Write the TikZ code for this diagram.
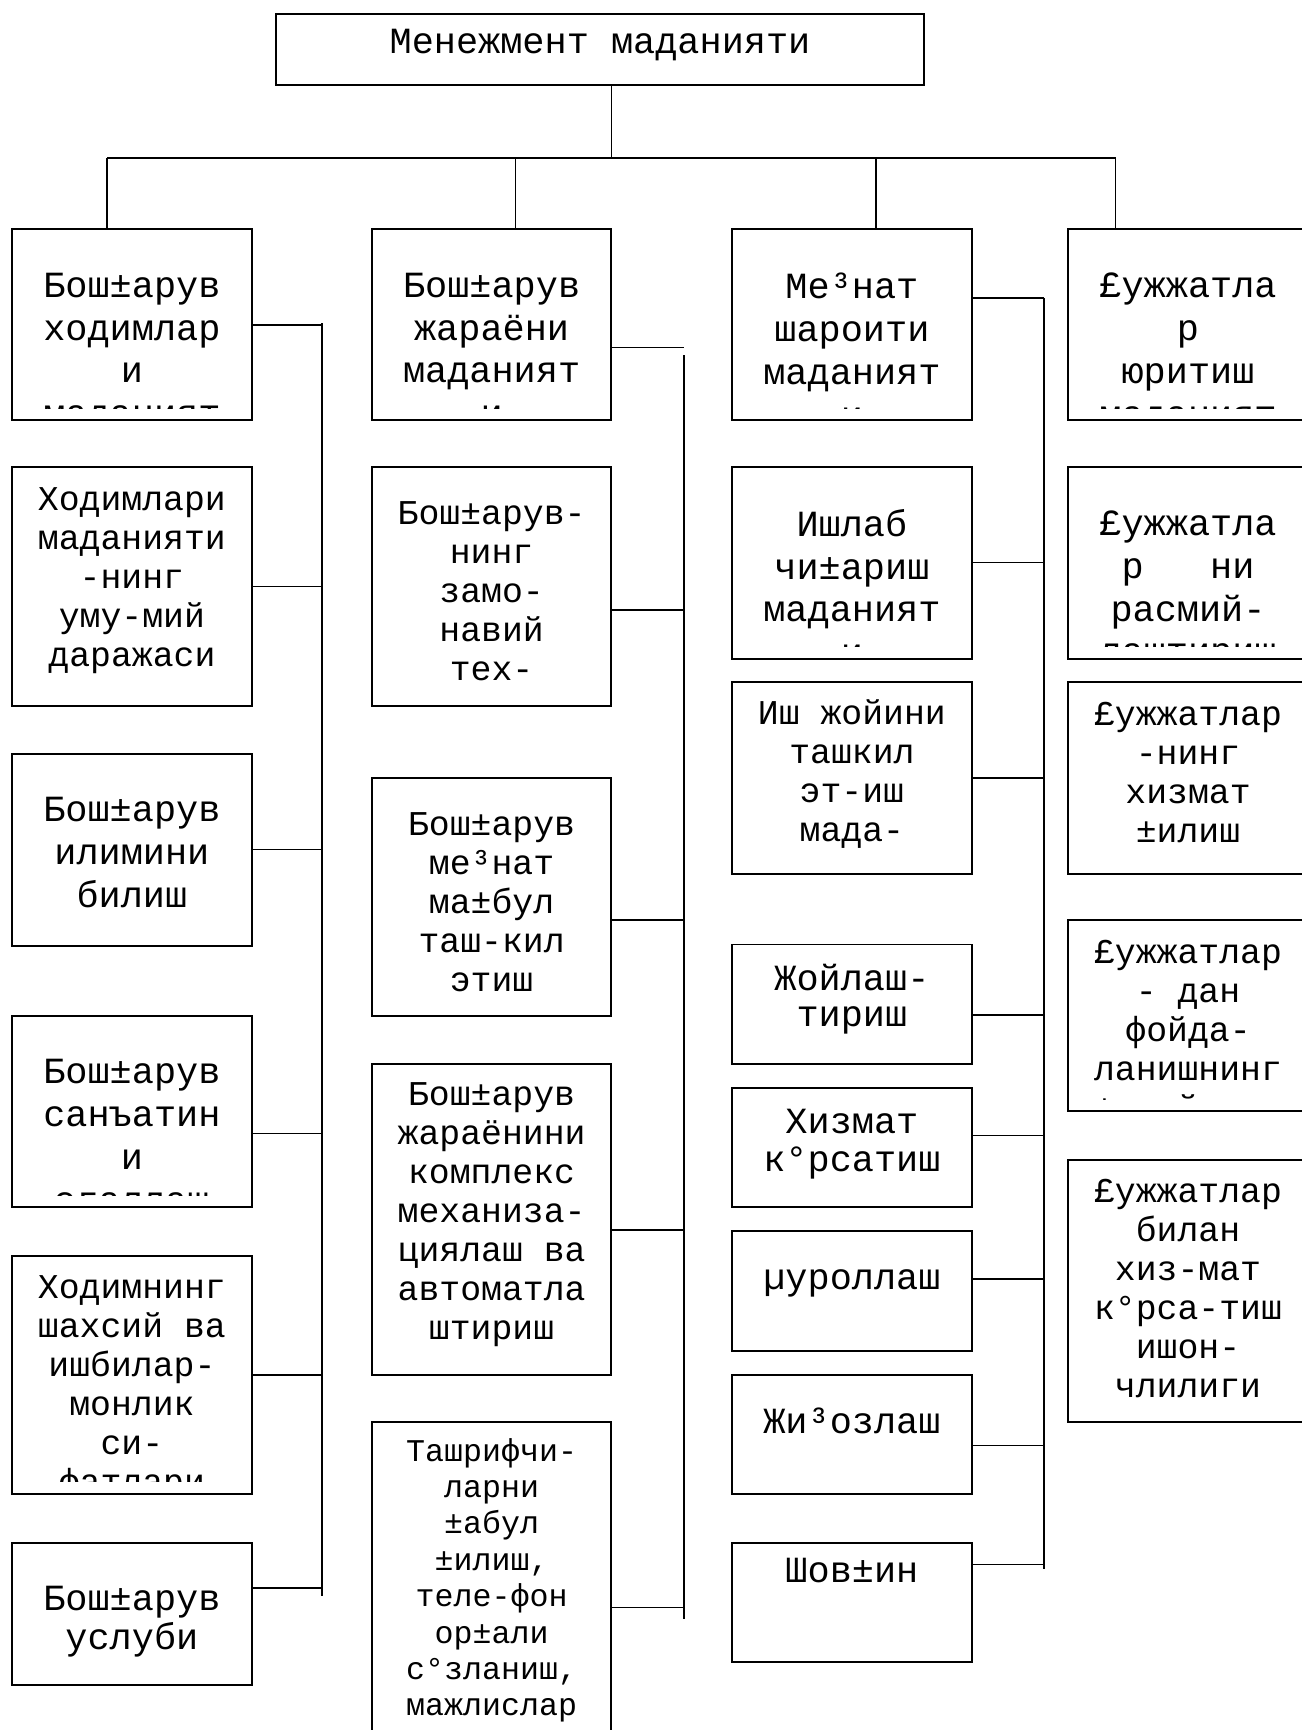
\documentclass[tikz,border=0pt]{standalone}
\usepackage{fontspec}
\newfontfamily\cour{Liberation Mono}

\begin{document}
\begin{tikzpicture}[font=\cour]

\tikzset{
  box/.style={draw, line width=0.55pt, minimum width=2.395cm, inner sep=0pt, anchor=north},
  tx/.style={draw=none, inner sep=0pt, minimum width=0pt, minimum height=0pt, align=center, anchor=north, path picture={}, execute at begin node=\strut},
  lbl/.style n args={3}{path picture={
      \clip ([yshift=0.12cm]path picture bounding box.south west) rectangle (path picture bounding box.north east);
      \node[tx, #1] at ([yshift=-#2]path picture bounding box.north) {#3};}},
  big/.style={font=\cour\fontsize{10.5}{12.2}\selectfont},
  bigt/.style={font=\cour\fontsize{10.5}{11}\selectfont},
  bigtt/.style={font=\cour\fontsize{10.5}{10.35}\selectfont},
  mid/.style={font=\cour\fontsize{9.9}{11.1}\selectfont},
  sml/.style={font=\cour\fontsize{9}{10.35}\selectfont},
  conn/.style={line width=0.45pt},
}

\useasboundingbox (0,0) rectangle (13.01,-17.30);

% top
\node[box, minimum width=6.48cm, minimum height=0.71cm, lbl={big}{0.09cm}{Менежмент маданияти}] (top) at (6.00,-0.13) {};

% first column
\node[box, minimum height=1.909cm, lbl={big}{0.425cm}{Бош±арув\\ходимлар\\и\\маданият}] (a1) at (1.319,-2.284) {};
\node[box, minimum height=2.394cm, lbl={mid}{0.195cm}{Ходимлари\\маданияти\\-нинг\\уму-мий\\даражаси}] (a2) at (1.319,-4.657) {};
\node[box, minimum height=1.920cm, lbl={big}{0.425cm}{Бош±арув\\илимини\\билиш}] (a3) at (1.319,-7.526) {};
\node[box, minimum height=1.909cm, lbl={big}{0.425cm}{Бош±арув\\санъатин\\и\\эгаллаш}] (a4) at (1.319,-10.152) {};
\node[box, minimum height=2.383cm, lbl={mid}{0.19cm}{Ходимнинг\\шахсий~ва\\ишбилар-\\монлик\\си-\\фатлари}] (a5) at (1.319,-12.547) {};
\node[box, minimum height=1.424cm, lbl={bigt}{0.425cm}{Бош±арув\\услуби}] (a6) at (1.319,-15.416) {};

% second column
\node[box, minimum height=1.909cm, lbl={big}{0.425cm}{Бош±арув\\жараёни\\маданият\\и}] (b1) at (4.916,-2.284) {};
\node[box, minimum height=2.394cm, lbl={mid}{0.336cm}{Бош±арув-\\нинг\\замо-\\навий\\тех-}] (b2) at (4.916,-4.657) {};
\node[box, minimum height=2.383cm, lbl={mid}{0.335cm}{Бош±арув\\ме³нат\\ма±бул\\таш-кил\\этиш}] (b3) at (4.916,-7.769) {};
\node[box, minimum height=3.112cm, lbl={mid}{0.18cm}{Бош±арув\\жараёнини\\комплекс\\механиза-\\циялаш~ва\\автоматла\\штириш}] (b4) at (4.916,-10.627) {};
\node[box, minimum height=3.708cm, lbl={sml}{0.15cm}{Ташрифчи-\\ларни\\±абул\\±илиш,\\теле-фон\\ор±али\\с°зланиш,\\мажлислар}] (b5) at (4.916,-14.213) {};

% third column
\node[box, minimum height=1.909cm, lbl={big}{0.425cm}{Ме³нат\\шароити\\маданият\\и}] (c1) at (8.519,-2.284) {};
\node[box, minimum height=1.920cm, lbl={big}{0.415cm}{Ишлаб\\чи±ариш\\маданият\\и}] (c2) at (8.519,-4.657) {};
\node[box, minimum height=1.920cm, lbl={mid}{0.17cm}{Иш~жойини\\ташкил\\эт-иш\\мада-}] (c3) at (8.519,-6.809) {};
\node[box, minimum height=1.192cm, lbl={bigtt}{0.185cm}{Жойлаш-\\тириш}] (c4) at (8.519,-9.435) {};
\node[box, minimum height=1.191cm, lbl={bigt}{0.2cm}{Хизмат\\к°рсатиш}] (c5) at (8.519,-10.870) {};
\node[box, minimum height=1.192cm, lbl={big}{0.27cm}{µуроллаш}] (c6) at (8.519,-12.304) {};
\node[box, minimum height=1.191cm, lbl={big}{0.28cm}{Жи³озлаш}] (c7) at (8.519,-13.739) {};
\node[box, minimum height=1.192cm, lbl={big}{0.085cm}{Шов±ин}] (c8) at (8.519,-15.416) {};

% fourth column
\node[box, minimum height=1.909cm, lbl={big}{0.425cm}{£ужжатла\\р\\юритиш\\маданият}] (d1) at (11.88,-2.284) {};
\node[box, minimum height=1.920cm, lbl={big}{0.43cm}{£ужжатла\\р~~~ни\\расмий-\\лаштириш}] (d2) at (11.88,-4.657) {};
\node[box, minimum height=1.920cm, lbl={mid}{0.19cm}{£ужжатлар\\-нинг\\хизмат\\±илиш}] (d3) at (11.88,-6.809) {};
\node[box, minimum height=1.909cm, lbl={mid}{0.19cm}{£ужжатлар\\-~дан\\фойда-\\ланишнинг\\±улайлиги}] (d4) at (11.88,-9.192) {};
\node[box, minimum height=2.626cm, lbl={mid}{0.19cm}{£ужжатлар\\билан\\хиз-мат\\к°рса-тиш\\ишон-\\члилиги}] (d5) at (11.88,-11.587) {};

% tree lines
\coordinate (trunk) at (6.113,-1.578);
\coordinate (dA) at (1.070,-1.578);
\coordinate (dB) at (5.153,-1.578);
\coordinate (dC) at (8.762,-1.578);
\coordinate (dD) at (11.156,-1.578);
\draw[conn] (top.south -| trunk) -- (trunk);
\draw[conn] (dA) -- (dD);
\draw[conn] (dA) -- (dA |- a1.north);
\draw[conn] (dB) -- (dB |- b1.north);
\draw[conn] (dC) -- (dC |- c1.north);
\draw[conn] (dD) -- (dD |- d1.north);

% column spines
\coordinate (sA) at (3.222,-3.233);
\coordinate (sA2) at (3.222,-15.96);
\coordinate (sB) at (6.842,-3.553);
\coordinate (sB2) at (6.842,-16.19);
\coordinate (sC) at (10.439,-2.979);
\coordinate (sC2) at (10.439,-15.69);
\draw[conn] (sA) -- (sA2);
\draw[conn] (sB) -- (sB2);
\draw[conn] (sC) -- (sC2);

\draw[conn] (a1.east) -- (a1.east -| sA);
\draw[conn] (a2.east) -- (a2.east -| sA);
\draw[conn] (a3.east) -- (a3.east -| sA);
\draw[conn] ([yshift=-0.22cm]a4.east) -- ([yshift=-0.22cm]a4.east -| sA);
\draw[conn] (a5.east) -- (a5.east -| sA);
\draw[conn] ([yshift=0.26cm]a6.east) -- ([yshift=0.26cm]a6.east -| sA);

\draw[conn] ([yshift=-0.226cm]b1.east) -- ([yshift=-0.226cm]b1.east -| sB);
\draw[conn] ([yshift=-0.237cm]b2.east) -- ([yshift=-0.237cm]b2.east -| sB);
\draw[conn] ([yshift=-0.232cm]b3.east) -- ([yshift=-0.232cm]b3.east -| sB);
\draw[conn] ([yshift=-0.11cm]b4.east) -- ([yshift=-0.11cm]b4.east -| sB);
\draw[conn] (b5.east) -- (b5.east -| sB);

\draw[conn] (c1.east |- sC) -- (sC);
\draw[conn] (c2.east) -- (c2.east -| sC);
\draw[conn] (c3.east) -- (c3.east -| sC);
\draw[conn] ([yshift=-0.11cm]c4.east) -- ([yshift=-0.11cm]c4.east -| sC);
\draw[conn] ([yshift=0.122cm]c5.east) -- ([yshift=0.122cm]c5.east -| sC);
\draw[conn] ([yshift=0.121cm]c6.east) -- ([yshift=0.121cm]c6.east -| sC);
\draw[conn] ([yshift=-0.11cm]c7.east) -- ([yshift=-0.11cm]c7.east -| sC);
\draw[conn] ([yshift=0.375cm]c8.east) -- ([yshift=0.375cm]c8.east -| sC);

\end{tikzpicture}
\end{document}
